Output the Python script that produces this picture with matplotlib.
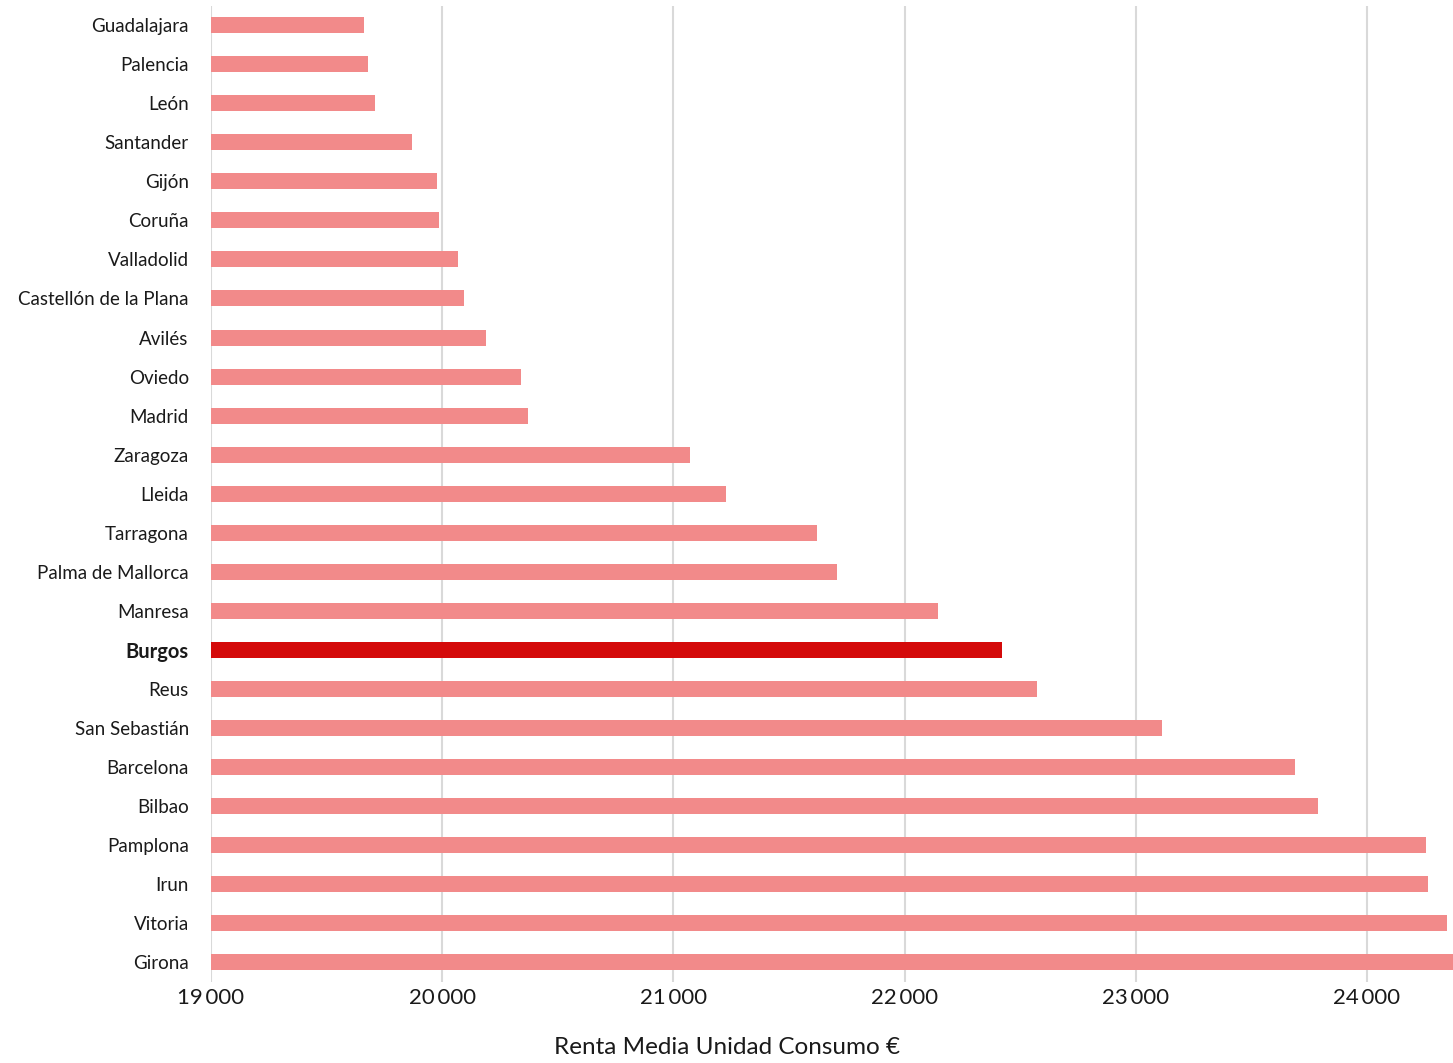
import matplotlib
matplotlib.use("Agg")
import matplotlib.pyplot as plt
from matplotlib.ticker import FuncFormatter

plt.rcParams['font.family'] = ['Lato', 'DejaVu Sans']

cities = ["Guadalajara", "Palencia", "León", "Santander", "Gijón", "Coruña",
          "Valladolid", "Castellón de la Plana", "Avilés", "Oviedo", "Madrid",
          "Zaragoza", "Lleida", "Tarragona", "Palma de Mallorca", "Manresa",
          "Burgos", "Reus", "San Sebastián", "Barcelona", "Bilbao", "Pamplona",
          "Irun", "Vitoria", "Girona"]
renta = [19662, 19679, 19709, 19869, 19977, 19986, 20068, 20094, 20189, 20341,
         20371, 21072, 21227, 21621, 21708, 22144, 22421, 22573, 23113, 23689,
         23788, 24255, 24264, 24346, 24420]
highlight = "Burgos"
xticks = [19000, 20000, 21000, 22000, 23000, 24000]

fig = plt.figure(figsize=(14.53, 10.63), dpi=100)
ax = fig.add_axes([0.1452, 0.0762, 0.8548, 0.9186])

ypos = list(range(len(cities)))
colors = ["#d40a0a" if c == highlight else "#f28a8a" for c in cities]
ax.barh(ypos, [v - 19000 for v in renta], left=19000, height=0.41,
        color=colors, zorder=3)

ax.set_xlim(19000, 24372)
ax.set_ylim(len(cities) - 0.5, -0.5)
ax.set_yticks(ypos)
ax.set_yticklabels(cities)
for lbl in ax.get_yticklabels():
    lbl.set_fontsize(13.5)
    lbl.set_color("#1a1a1a")
    if lbl.get_text() == highlight:
        lbl.set_fontweight("bold")
        lbl.set_fontsize(14.5)
ax.set_xticks(xticks)
ax.xaxis.set_major_formatter(FuncFormatter(lambda v, p: f"{int(v):,}".replace(",", "\u2009")))
ax.tick_params(axis='x', labelsize=16, colors="#1a1a1a", length=0, pad=4)
ax.tick_params(axis='y', length=0, pad=16)
ax.grid(axis='x', color="#d9d9d9", linewidth=1.5, zorder=0)
for s in ax.spines.values():
    s.set_visible(False)
ax.set_xlabel("Renta Media Unidad Consumo €", fontsize=17.5, color="#1a1a1a")
ax.xaxis.set_label_coords((727 - 211) / 1242, -0.056)

fig.savefig("out.png", dpi=100, facecolor="white")
